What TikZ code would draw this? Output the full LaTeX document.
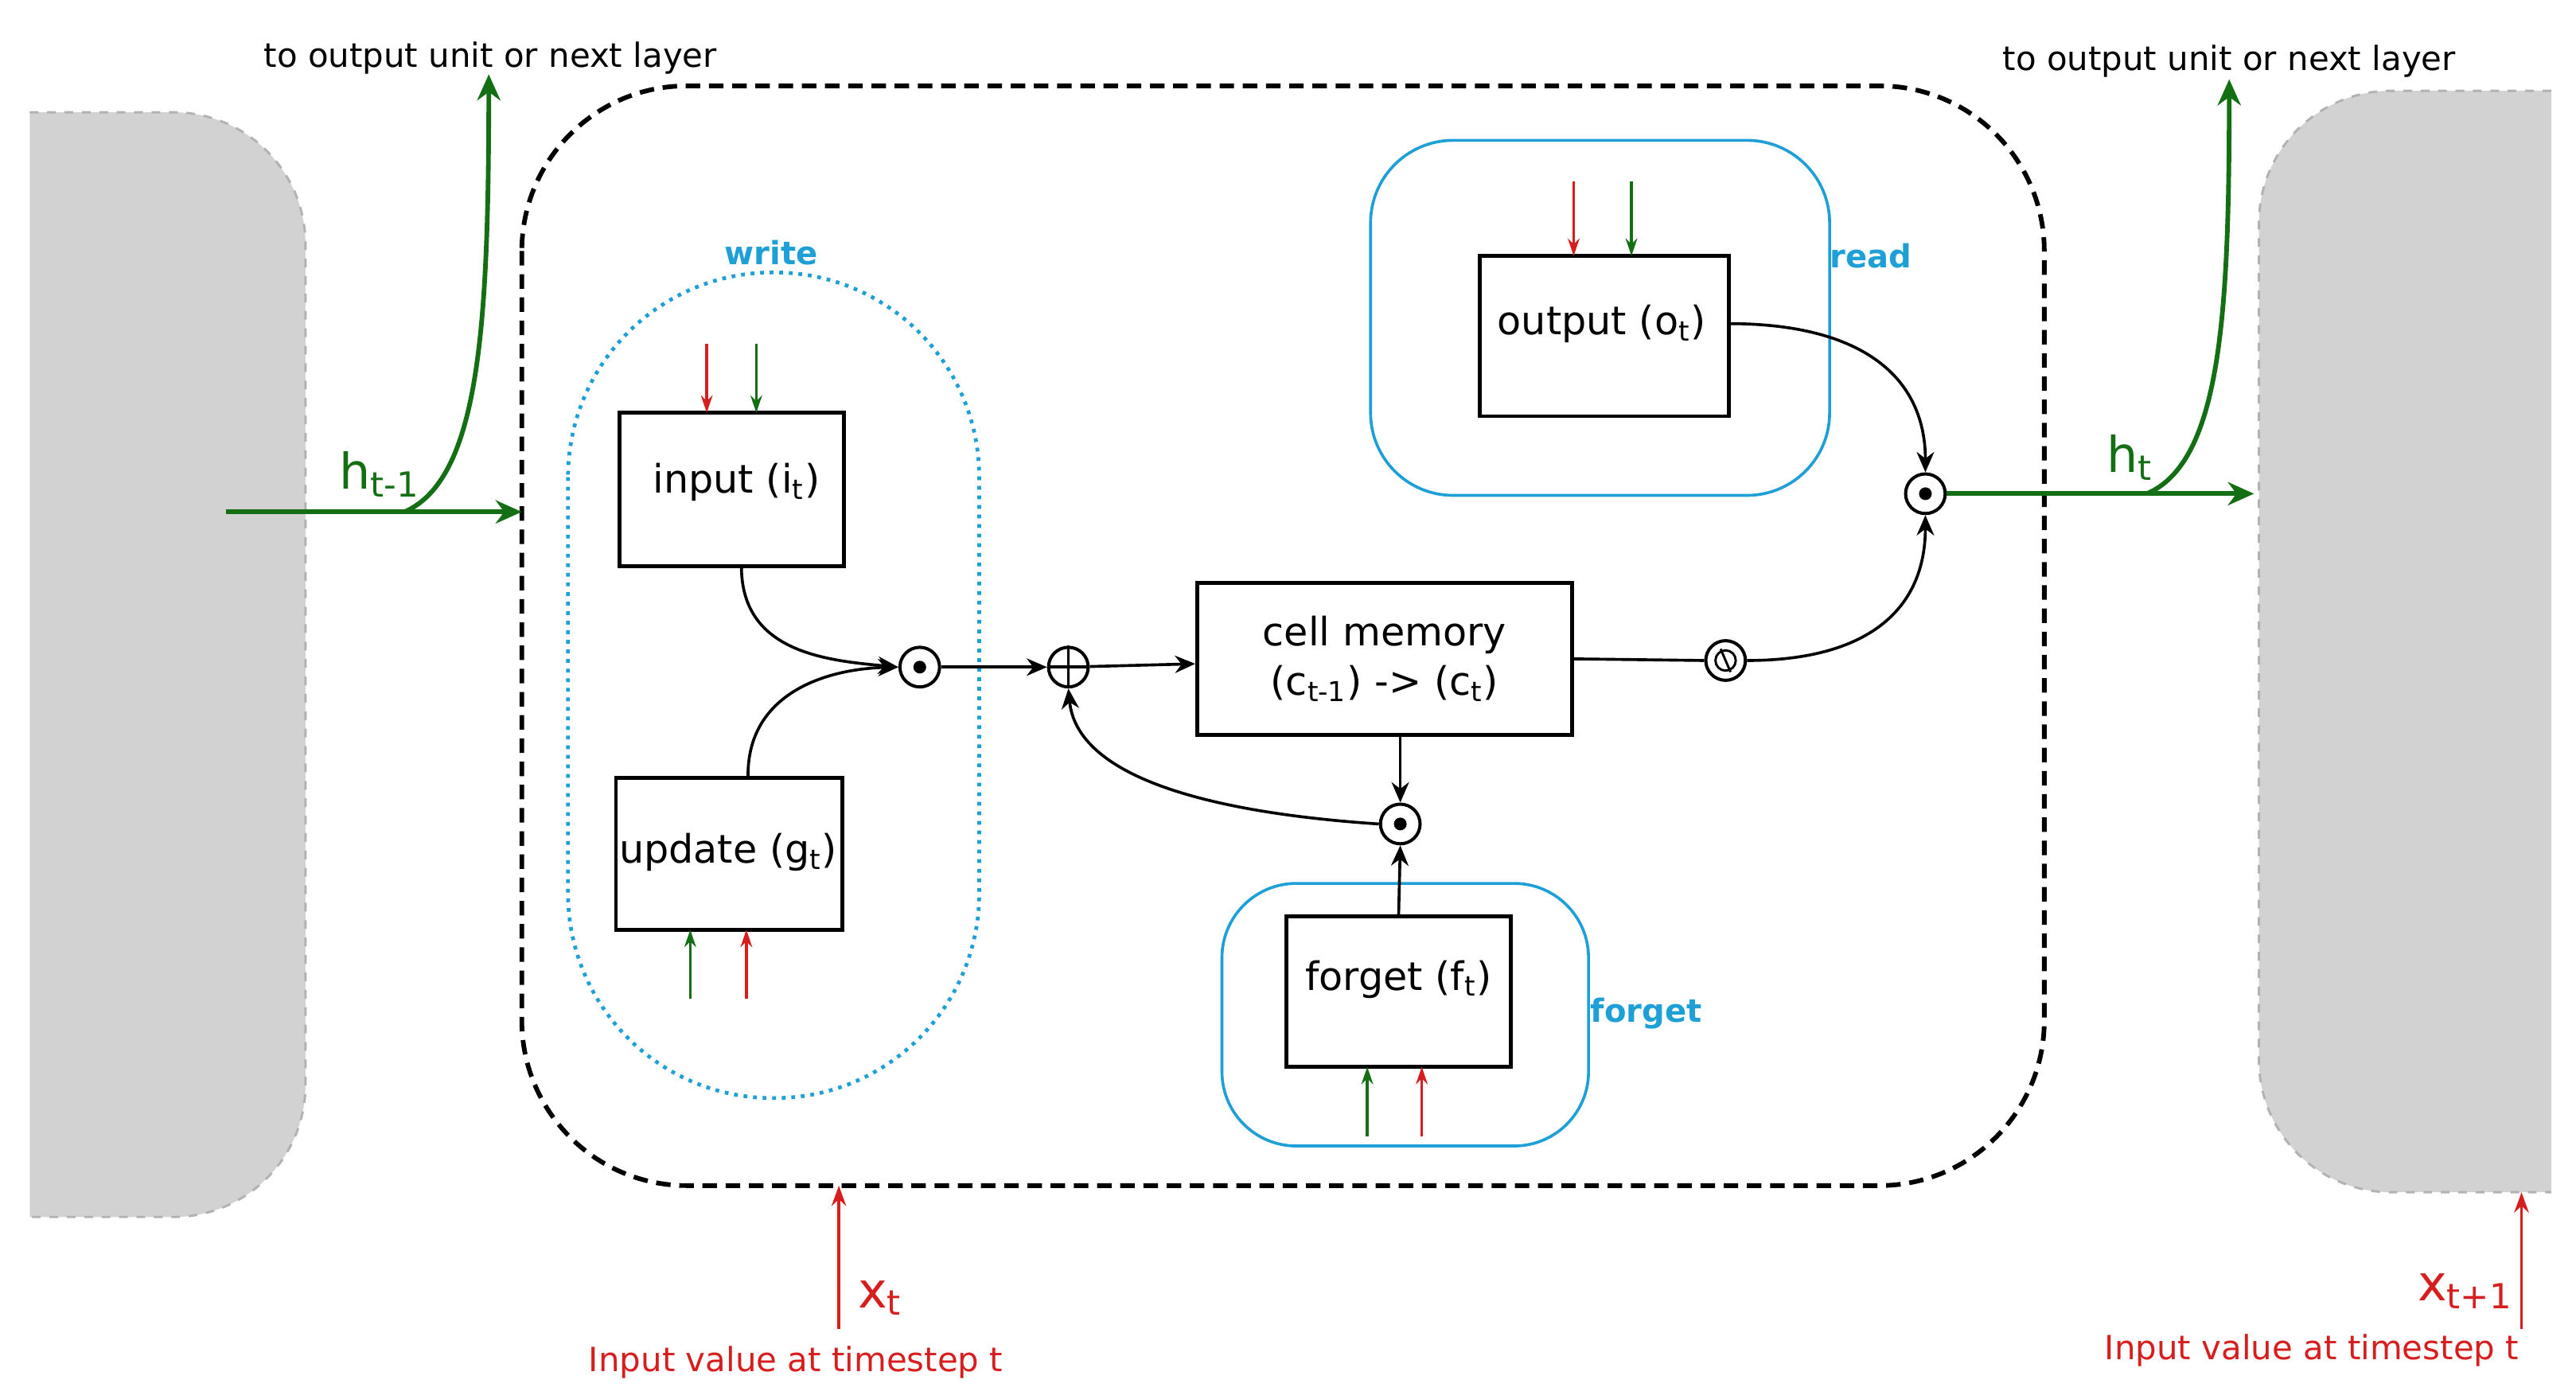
\documentclass[tikz,border=0pt]{standalone}
\usepackage{fontspec}
\setmainfont{DejaVu Sans}
\usetikzlibrary{arrows.meta}
\definecolor{gr}{RGB}{20,110,20}
\definecolor{rd}{RGB}{215,30,30}
\definecolor{bl}{RGB}{30,160,215}
\definecolor{greyfill}{RGB}{210,210,210}
\begin{document}
\begin{tikzpicture}[x=0.02cm,y=-0.02cm,
  box/.style={draw,line width=1.3pt,inner sep=0},
  op/.style={circle,draw,line width=1.1pt,minimum size=24*0.02cm,inner sep=0},
  arr/.style={-{Stealth[length=7pt,width=6pt]},line width=1pt},
  garr/.style={-{Stealth[length=9pt,width=8pt]},line width=1.6pt,gr},
  small/.style={-{Stealth[length=6pt,width=4pt]},line width=1pt},
  lbl/.style={font=\fontsize{13.5}{17}\selectfont},
  blue/.style={bl,font=\bfseries\fontsize{11}{13}\selectfont}]
\useasboundingbox (0,0) rectangle (1560,847);
% grey neighbours
\fill[greyfill] (18,68) -- (105,68) arc[start angle=90,end angle=0,x radius=80,y radius=-80] -- (185,657) arc[start angle=0,end angle=-90,x radius=80,y radius=-80] -- (18,737) -- cycle;
\draw[gray!60,dashed,line width=0.8pt] (18,68) -- (105,68) arc[start angle=90,end angle=0,x radius=80,y radius=-80] -- (185,657) arc[start angle=0,end angle=-90,x radius=80,y radius=-80] -- (18,737);
\fill[greyfill] (1545,55) -- (1448,55) arc[start angle=90,end angle=180,x radius=80,y radius=-80] -- (1368,642) arc[start angle=180,end angle=270,x radius=80,y radius=-80] -- (1545,722) -- cycle;
\draw[gray!60,dashed,line width=0.8pt] (1545,55) -- (1448,55) arc[start angle=90,end angle=180,x radius=80,y radius=-80] -- (1368,642) arc[start angle=180,end angle=270,x radius=80,y radius=-80] -- (1545,722);
% cell boundary
\draw[dash pattern=on 5pt off 3pt,line width=1.6pt,rounded corners=100*0.02cm] (316,52) rectangle (1238,718);
% regions
\draw[bl,dotted,line width=1.3pt,rounded corners=124*0.02cm] (344,165) rectangle (593,665);
\node[blue] (wl) at (467,153) {write};
\draw[bl,line width=1pt,rounded corners=45*0.02cm] (740,535) rectangle (962,694);
\node[blue] (fl) at (997,614) {forget};
\draw[bl,line width=1pt,rounded corners=50*0.02cm] (830,85) rectangle (1108,300);
\node[blue] (rl) at (1133,155) {read};
% boxes
\node[box,minimum width=136*0.02cm,minimum height=93*0.02cm] (in) at (443,296.5) {};
\node[lbl] at (446,292) {input (i\textsubscript{t})};
\node[box,minimum width=137*0.02cm,minimum height=92*0.02cm] (up) at (441.5,517) {};
\node[lbl] at (441,516) {update (g\textsubscript{t})};
\node[box,minimum width=227*0.02cm,minimum height=92*0.02cm,align=center,lbl] (cm) at (838.5,399) {cell memory\\(c\textsubscript{t-1}) -> (c\textsubscript{t})};
\node[box,minimum width=136*0.02cm,minimum height=91*0.02cm] (fg) at (847,600.5) {};
\node[lbl] at (847,593) {forget (f\textsubscript{t})};
\node[box,minimum width=151*0.02cm,minimum height=97*0.02cm] (out) at (971.5,203.5) {};
\node[lbl] at (970,196) {output (o\textsubscript{t})};
% operators
\node[op] (m1) at (557,404) {};
\fill (m1) circle (2.2pt);
\node[op] (pl) at (647,404) {};
\draw[line width=1pt] (pl.north) -- (pl.south) (pl.west) -- (pl.east);
\node[op] (m2) at (848,499) {};
\fill (m2) circle (2.2pt);
\node[op] (ph) at (1045,400) {};
\draw[line width=0.8pt] (ph) circle (3.5pt);
\draw[line width=0.8pt] (1042,393) -- (1048,407);
\node[op] (m3) at (1166,299) {};
\fill (m3) circle (2.2pt);
% connectors
\draw[arr] (449,343) .. controls (449,395) and (500,400) .. (m1.west);
\draw[arr] (453,471) .. controls (452,420) and (500,405) .. (m1.west);
\draw[arr] (m1) -- (pl);
\draw[arr] (pl) -- (cm);
\draw[arr] (848,445) -- (m2.north);
\draw[arr] (fg.north) -- (m2.south);
\draw[arr] (m2.west) .. controls (730,492) and (652,470) .. (pl.south);
\draw[line width=1pt] (cm.east) -- (ph.west);
\draw[arr] (ph.east) .. controls (1130,400) and (1166,370) .. (m3.south);
\draw[arr] (1047,196) .. controls (1130,196) and (1166,230) .. (m3.north);
% small gate inputs
\draw[small,rd] (428,208) -- (428,250);
\draw[small,gr] (458,208) -- (458,250);
\draw[small,gr] (418,605) -- (418,563);
\draw[small,rd] (452,605) -- (452,563);
\draw[small,gr] (828,688) -- (828,646);
\draw[small,rd] (861,688) -- (861,646);
\draw[small,rd] (953,110) -- (953,155);
\draw[small,gr] (988,110) -- (988,155);
% hidden state
\coordinate (hs) at (137,310); \coordinate (he) at (316,310);
\draw[garr] (hs) -- (he);
\coordinate (hb) at (245,310); \coordinate (ht) at (296,45);
\draw[garr] (hb) .. controls (290,290) and (296,200) .. (ht);
\node[gr,font=\fontsize{17}{19}\selectfont] (hl) at (230,287) {h\textsubscript{t-1}};
\node[font=\fontsize{11.5}{13}\selectfont] (t1) at (297,35) {to output unit or next layer};
\coordinate (re) at (1365,299);
\draw[garr] (m3.east) -- (re);
\coordinate (rb) at (1300,299); \coordinate (rt) at (1350,48);
\draw[garr] (rb) .. controls (1345,280) and (1350,190) .. (rt);
\node[gr,font=\fontsize{17}{19}\selectfont] (hl2) at (1290,277) {h\textsubscript{t}};
\node[font=\fontsize{11.5}{13}\selectfont] (t2) at (1350,37) {to output unit or next layer};
% inputs x
\coordinate (xs) at (508,805); \coordinate (xe) at (508,718);
\draw[rd,-{Stealth[length=7pt,width=5pt]},line width=1pt] (xs) -- (xe);
\node[rd,font=\fontsize{17}{19}\selectfont] (xl) at (533,786) {x\textsubscript{t}};
\node[rd,font=\fontsize{11.5}{13}\selectfont] (xt) at (482,825) {Input value at timestep t};
\coordinate (ys) at (1527,805); \coordinate (ye) at (1527,722);
\draw[rd,-{Stealth[length=7pt,width=5pt]},line width=1pt] (ys) -- (ye);
\node[rd,font=\fontsize{17}{19}\selectfont] (yl) at (1493,782) {x\textsubscript{t+1}};
\node[rd,font=\fontsize{11.5}{13}\selectfont] (yt) at (1400,818) {Input value at timestep t};
\end{tikzpicture}
\end{document}
